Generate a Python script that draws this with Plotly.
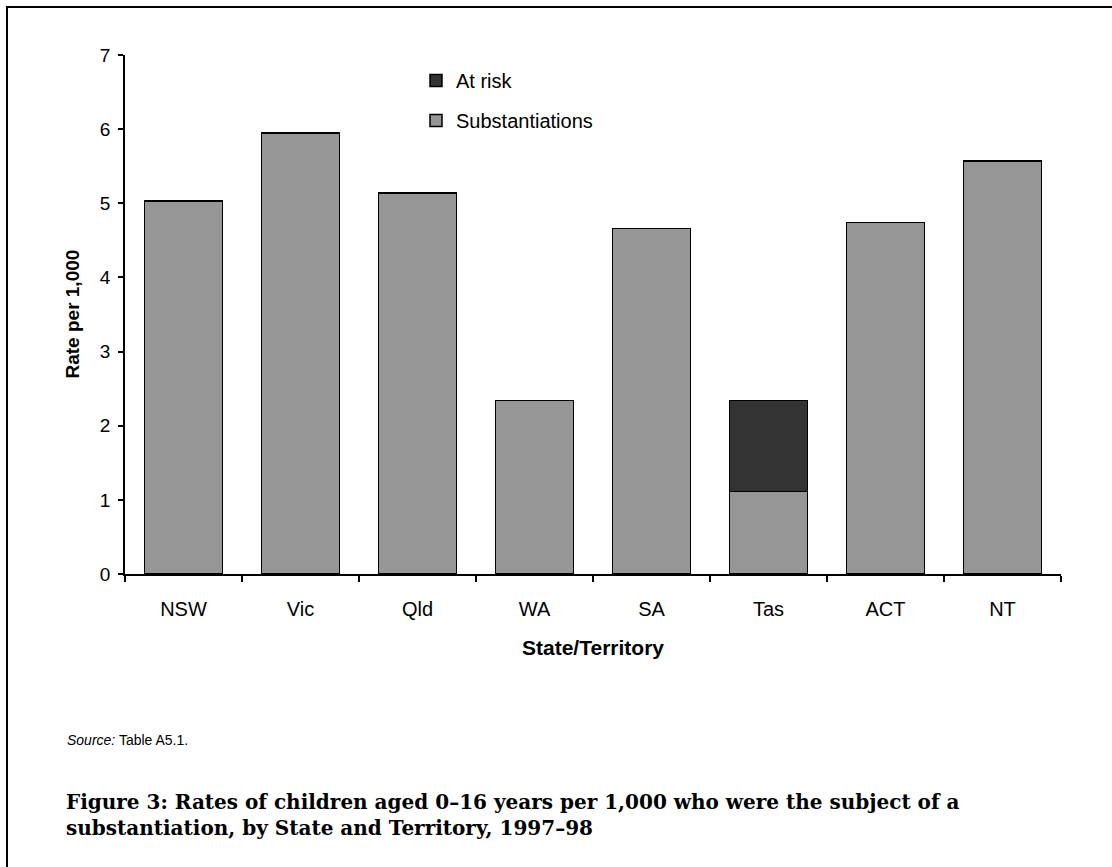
import plotly.graph_objects as go

# Rates per 1,000 children aged 0-16, 1997-98
states = ["NSW", "Vic", "Qld", "WA", "SA", "Tas", "ACT", "NT"]
substantiations = [5.03, 5.95, 5.14, 2.34, 4.66, 1.11, 4.74, 5.57]
at_risk = [None, None, None, None, None, 1.23, None, None]

W, H = 1112, 867
L, R, T, B = 125, 51, 55, 292.5
pw, ph = W - L - R, H - T - B


def px_x(x):
    return (x - L) / pw


def px_y(y):
    return (H - B - y) / ph


FONT = "Liberation Sans, Arial, sans-serif"
SERIF = "DejaVu Serif, Liberation Serif, serif"

fig = go.Figure()
fig.add_trace(go.Bar(
    x=states, y=substantiations, name="Substantiations",
    marker=dict(color="#969696", line=dict(color="#000000", width=1.5)),
    width=0.67, legendgroup="s", legendrank=2,
))
fig.add_trace(go.Bar(
    x=states, y=at_risk, name="At risk",
    marker=dict(color="#333333", line=dict(color="#000000", width=1.5)),
    width=0.67, legendgroup="a", legendrank=1,
))

fig.update_layout(
    width=W, height=H,
    margin=dict(l=L, r=R, t=T, b=B, autoexpand=False),
    barmode="stack",
    paper_bgcolor="white", plot_bgcolor="white",
    font=dict(family=FONT, size=16, color="#000000"),
    showlegend=True,
    legend=dict(
        x=px_x(416), y=px_y(61), xanchor="left", yanchor="top",
        traceorder="grouped", tracegroupgap=11,
        font=dict(family=FONT, size=20),
        bgcolor="rgba(0,0,0,0)", itemclick=False,
    ),
    xaxis=dict(
        showline=True, linecolor="#000000", linewidth=1.5,
        ticks="outside", tickson="boundaries", ticklen=6, tickcolor="#000000",
        tickwidth=1.5, ticklabelstandoff=16,
        tickfont=dict(family=FONT, size=20),
        showgrid=False, zeroline=False,
    ),
    yaxis=dict(
        range=[0, 7], dtick=1, tick0=0,
        showline=True, linecolor="#000000", linewidth=1.5,
        ticks="outside", ticklen=5, tickcolor="#000000", tickwidth=1.5,
        ticklabelstandoff=4,
        tickfont=dict(family=FONT, size=19),
        showgrid=False, zeroline=False,
    ),
    shapes=[
        dict(type="rect", xref="paper", yref="paper",
             x0=px_x(7), x1=1.2, y0=-0.7, y1=px_y(7),
             line=dict(color="#000000", width=2), fillcolor="rgba(0,0,0,0)",
             layer="below"),
    ],
    annotations=[
        dict(xref="paper", yref="paper", x=0.5, y=px_y(648),
             xanchor="center", yanchor="middle", showarrow=False,
             text="<b>State/Territory</b>",
             font=dict(family=FONT, size=21)),
        dict(xref="paper", yref="paper", x=px_x(72), y=0.5,
             xanchor="center", yanchor="middle", showarrow=False, textangle=-90,
             text="<b>Rate per 1,000</b>",
             font=dict(family=FONT, size=19)),
        dict(xref="paper", yref="paper", x=px_x(65), y=px_y(741),
             xanchor="left", yanchor="middle", showarrow=False,
             text="<i>Source:</i> Table A5.1.",
             font=dict(family=FONT, size=14)),
        dict(xref="paper", yref="paper", x=px_x(64), y=px_y(816),
             xanchor="left", yanchor="middle", showarrow=False, align="left",
             text="<b>Figure 3: Rates of children aged 0\u201316 years per 1,000 who were the subject of a<br>"
                  "substantiation, by State and Territory, 1997\u201398</b>",
             font=dict(family=SERIF, size=20)),
    ],
)

fig.write_html("out.html")
